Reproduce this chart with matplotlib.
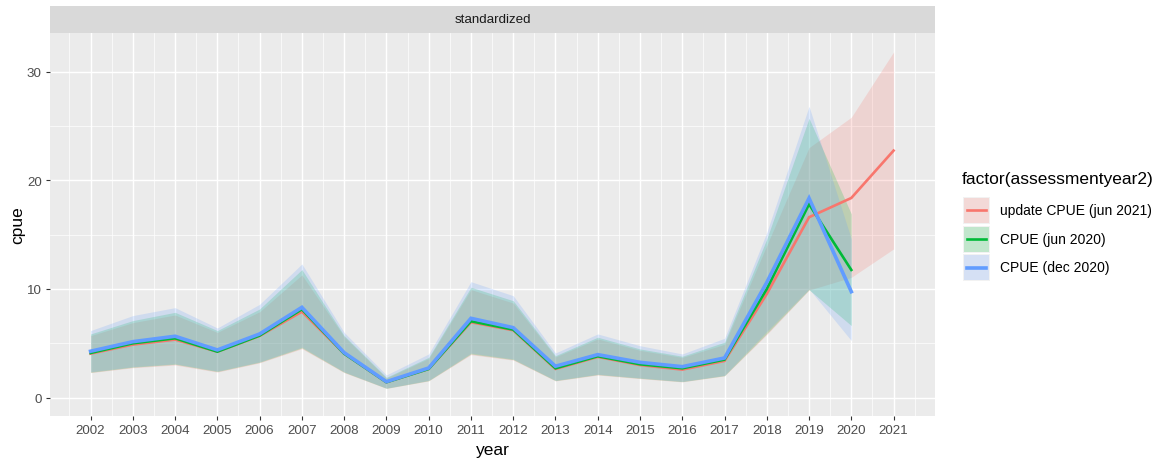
import matplotlib
matplotlib.use("Agg")
import matplotlib.pyplot as plt
from matplotlib.patches import Rectangle
from matplotlib.ticker import MultipleLocator

plt.rcParams['font.family'] = ['Liberation Sans', 'DejaVu Sans']

# ---- data -------------------------------------------------------------
years_update = list(range(2002, 2022))
years_2020 = list(range(2002, 2021))

cpue_update = [4.05, 4.88, 5.34, 4.23, 5.68, 7.91, 4.05, 1.42, 2.64, 6.94,
               6.20, 2.64, 3.75, 3.00, 2.58, 3.38, 9.54, 16.6, 18.37, 22.73]
upper_update = [5.70, 6.90, 7.60, 6.00, 7.90, 11.29, 5.60, 1.80, 3.60, 9.94,
                8.70, 3.75, 5.40, 4.35, 3.70, 4.90, 14.0, 23.0, 25.8, 31.8]
lower_update = [2.30, 2.75, 3.00, 2.35, 3.20, 4.50, 2.30, 0.85, 1.54, 3.95,
                3.45, 1.54, 2.08, 1.75, 1.45, 2.00, 5.80, 9.90, 11.07, 13.68]

cpue_jun = [4.11, 5.00, 5.46, 4.23, 5.71, 8.13, 4.05, 1.42, 2.64, 7.03,
            6.26, 2.70, 3.81, 3.07, 2.70, 3.50, 10.0, 17.8, 11.75]
upper_jun = [5.86, 7.09, 7.85, 6.17, 8.16, 11.78, 5.71, 1.87, 3.71, 10.16,
             8.92, 3.86, 5.56, 4.48, 3.81, 5.10, 14.6, 25.7, 16.9]
lower_jun = [2.33, 2.80, 3.07, 2.40, 3.25, 4.57, 2.33, 0.86, 1.56, 4.02,
             3.50, 1.56, 2.12, 1.78, 1.47, 2.02, 5.90, 9.93, 6.63]

cpue_dec = [4.27, 5.15, 5.65, 4.39, 5.86, 8.31, 4.14, 1.47, 2.73, 7.30,
            6.44, 2.89, 3.96, 3.25, 2.85, 3.65, 10.6, 18.35, 9.75]
upper_dec = [6.17, 7.55, 8.28, 6.41, 8.59, 12.3, 6.00, 2.09, 4.02, 10.67,
             9.38, 4.11, 5.86, 4.78, 4.02, 5.46, 15.2, 26.8, 14.6]
lower_dec = [2.38, 2.85, 3.12, 2.45, 3.30, 4.65, 2.38, 0.88, 1.60, 4.10,
             3.56, 1.60, 2.16, 1.82, 1.50, 2.06, 6.10, 10.0, 5.25]

series_labels = ["update CPUE (jun 2021)", "CPUE (jun 2020)", "CPUE (dec 2020)"]
series_colors = ["#F8766D", "#00BA38", "#619CFF"]
x_ticks = list(range(2002, 2022))
y_ticks = [0, 10, 20, 30]

series = [
    (years_update, cpue_update, lower_update, upper_update),
    (years_2020, cpue_jun, lower_jun, upper_jun),
    (years_2020, cpue_dec, lower_dec, upper_dec),
]
line_widths = [1.9, 1.9, 2.6]

# ---- figure layout (pixel based) --------------------------------------
W, H = 1164, 464
fig = plt.figure(figsize=(W / 100, H / 100), dpi=100)
fig.patch.set_facecolor("white")

pl, pr, pt, pb = 50, 935, 34.3, 416.7
ax = fig.add_axes([pl / W, 1 - pb / H, (pr - pl) / W, (pb - pt) / H])
strip = fig.add_axes([pl / W, 1 - 34.3 / H, (pr - pl) / W, (34.3 - 6.7) / H])

# ---- panel ------------------------------------------------------------
ax.set_facecolor("#EBEBEB")
for s in ax.spines.values():
    s.set_visible(False)
ax.set_xlim(2001.04, 2021.98)
ax.set_ylim(-1.66, 33.52)
ax.set_xticks(x_ticks)
ax.set_yticks(y_ticks)
ax.xaxis.set_minor_locator(MultipleLocator(0.5))
ax.yaxis.set_minor_locator(MultipleLocator(5))
ax.grid(which="major", color="white", linewidth=1.05)
ax.grid(which="minor", color="white", linewidth=0.5)
ax.set_axisbelow(True)
ax.tick_params(which="major", length=3, width=0.8, color="#333333",
               labelcolor="#4D4D4D", labelsize=9.6, pad=3)
ax.tick_params(which="minor", length=0)
ax.set_xlabel("year", fontsize=12.5, color="black", labelpad=4)
ax.set_ylabel("cpue", fontsize=12.5, color="black", labelpad=1)

for (x, y, lo, hi), c in zip(series, series_colors):
    ax.fill_between(x, lo, hi, color=c, alpha=0.2, linewidth=0)
for (x, y, lo, hi), c, lw in zip(series, series_colors, line_widths):
    ax.plot(x, y, color=c, linewidth=lw, solid_joinstyle="miter")

# ---- facet strip ------------------------------------------------------
strip.set_facecolor("#D9D9D9")
strip.set_xticks([])
strip.set_yticks([])
for s in strip.spines.values():
    s.set_visible(False)
strip.text(0.5, 0.5, "standardized", ha="center", va="center",
           fontsize=9.6, color="#1A1A1A", transform=strip.transAxes)

# ---- legend -----------------------------------------------------------
lax = fig.add_axes([0, 0, 1, 1])
lax.set_xlim(0, W)
lax.set_ylim(H, 0)
lax.axis("off")
lax.patch.set_alpha(0)
lax.text(962, 180, "factor(assessmentyear2)", fontsize=12.5, color="black",
         ha="left", va="center")
key_x, key_w, key_h = 962.5, 27, 27
key_tops = [197.5, 226.5, 255.0]
for top, c, lab, lw in zip(key_tops, series_colors, series_labels, line_widths):
    lax.add_patch(Rectangle((key_x, top), key_w, key_h, facecolor="#F2F2F2",
                            edgecolor="none"))
    lax.add_patch(Rectangle((key_x + 1, top + 1), key_w - 2, key_h - 2,
                            facecolor=c, alpha=0.2, edgecolor="none"))
    cy = top + key_h / 2
    lax.plot([key_x + 4, key_x + key_w - 4], [cy, cy], color=c, linewidth=lw)
    lax.text(1000, cy, lab, fontsize=10, color="black", ha="left", va="center")

fig.savefig("out.png", dpi=100, facecolor="white")
